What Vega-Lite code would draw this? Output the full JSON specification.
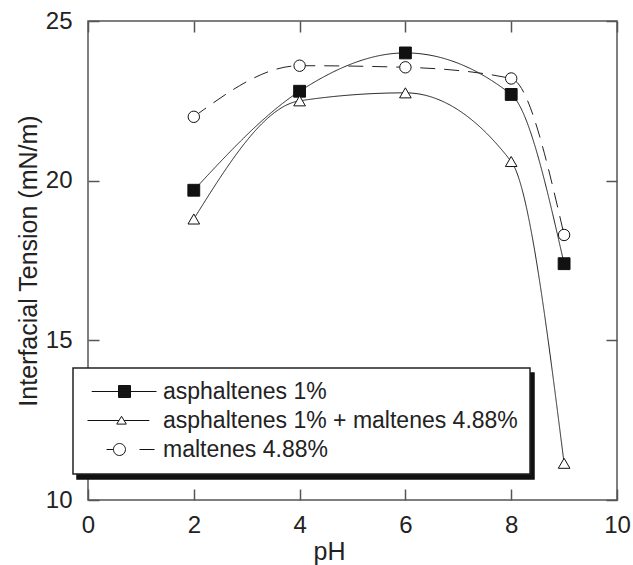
{
  "$schema": "https://vega.github.io/schema/vega-lite/v6.json",
  "width": 529,
  "height": 479,
  "autosize": {"type": "none"},
  "padding": {"left": 88, "top": 21, "right": 16, "bottom": 65},
  "background": "white",
  "config": {
    "font": "Liberation Sans",
    "view": {"stroke": "#555", "strokeWidth": 1.5},
    "legend": {"strokeWidth": 1.5}
  },
  "data": {
    "values": [
      {"pH": 2, "tension": 19.7, "series": "asphaltenes 1%"},
      {"pH": 4, "tension": 22.8, "series": "asphaltenes 1%"},
      {"pH": 6, "tension": 24.0, "series": "asphaltenes 1%"},
      {"pH": 8, "tension": 22.7, "series": "asphaltenes 1%"},
      {"pH": 9, "tension": 17.4, "series": "asphaltenes 1%"},
      {"pH": 2, "tension": 18.8, "series": "asphaltenes 1% + maltenes 4.88%"},
      {"pH": 4, "tension": 22.5, "series": "asphaltenes 1% + maltenes 4.88%"},
      {"pH": 6, "tension": 22.75, "series": "asphaltenes 1% + maltenes 4.88%"},
      {"pH": 8, "tension": 20.6, "series": "asphaltenes 1% + maltenes 4.88%"},
      {"pH": 9, "tension": 11.15, "series": "asphaltenes 1% + maltenes 4.88%"},
      {"pH": 2, "tension": 22.0, "series": "maltenes 4.88%"},
      {"pH": 4, "tension": 23.6, "series": "maltenes 4.88%"},
      {"pH": 6, "tension": 23.55, "series": "maltenes 4.88%"},
      {"pH": 8, "tension": 23.2, "series": "maltenes 4.88%"},
      {"pH": 9, "tension": 18.3, "series": "maltenes 4.88%"}
    ]
  },
  "layer": [
    {
      "mark": {"type": "line", "interpolate": "monotone", "color": "#222", "strokeWidth": 1},
      "encoding": {
        "x": {
          "field": "pH", "type": "quantitative",
          "scale": {"domain": [0, 10], "nice": false, "zero": false},
          "axis": {
            "orient": "bottom", "values": [0, 2, 4, 6, 8, 10], "tickSize": -11, "tickColor": "#555", "tickWidth": 1.5,
            "domain": false, "grid": false, "labelFontSize": 24, "labelColor": "#222", "labelPadding": 24,
            "labelFlush": false,
            "title": "pH", "titleFontSize": 25, "titleFontWeight": "normal", "titleColor": "#222", "titleX": 241, "titlePadding": 2
          }
        },
        "y": {
          "field": "tension", "type": "quantitative",
          "scale": {"domain": [10, 25], "nice": false, "zero": false},
          "axis": {
            "orient": "left", "values": [10, 15, 20, 25], "tickSize": -11, "tickColor": "#555", "tickWidth": 1.5,
            "domain": false, "grid": false, "labelFontSize": 24, "labelColor": "#222", "labelPadding": 27,
            "labelFlush": false,
            "title": "Interfacial Tension (mN/m)", "titleFontSize": 25, "titleFontWeight": "normal", "titleColor": "#222", "titlePadding": 4
          }
        },
        "strokeDash": {
          "field": "series", "type": "nominal",
          "scale": {"domain": ["maltenes 4.88%", "asphaltenes 1% + maltenes 4.88%", "asphaltenes 1%"], "range": [[15, 9], [1, 0], [1, 0]]},
          "legend": {
            "orient": "none", "legendX": -11, "legendY": 352, "title": null, "zindex": 1,
            "fillColor": "#111", "strokeColor": "#111", "labelColor": "#111", "labelOpacity": 0,
            "labelFontSize": 23, "labelFont": "Liberation Sans", "labelLimit": 500, "padding": 12, "rowPadding": 5,
            "symbolSize": 144, "labelOffset": 55, "symbolOpacity": 0
          }
        }
      }
    },
    {
      "mark": {"type": "point", "filled": true, "stroke": "#111", "strokeWidth": 1, "opacity": 1},
      "encoding": {
        "x": {
          "field": "pH", "type": "quantitative",
          "axis": {"orient": "top", "values": [0, 2, 4, 6, 8, 10], "tickSize": -11, "tickColor": "#555", "tickWidth": 1.5, "domain": false, "grid": false, "labels": false, "title": null}
        },
        "y": {
          "field": "tension", "type": "quantitative",
          "axis": {"orient": "right", "values": [10, 15, 20, 25], "tickSize": -11, "tickColor": "#555", "tickWidth": 1.5, "domain": false, "grid": false, "labels": false, "title": null}
        },
        "shape": {
          "field": "series", "type": "nominal",
          "scale": {"range": ["square", "triangle-up", "circle"]},
          "legend": null
        },
        "fill": {
          "field": "series", "type": "nominal",
          "scale": {"range": ["#111", "#fff", "#fff"]},
          "legend": null
        },
        "size": {
          "field": "series", "type": "nominal",
          "scale": {"range": [140, 130, 190]},
          "legend": null
        }
      }
    },
    {
      "mark": {"type": "point", "filled": false, "opacity": 0, "size": 144},
      "encoding": {
        "x": {"field": "pH", "type": "quantitative", "axis": null},
        "y": {"field": "tension", "type": "quantitative", "axis": null},
        "shape": {
          "field": "series", "type": "nominal",
          "scale": {
            "domain": ["asphaltenes 1%", "asphaltenes 1% + maltenes 4.88%", "maltenes 4.88%"],
            "range": [
              "M-0.8,0H10M3.67,-1H5.67V1H3.67ZM3.67,-0.83H5.67M3.67,-0.67H5.67M3.67,-0.5H5.67M3.67,-0.33H5.67M3.67,-0.17H5.67M3.67,0.17H5.67M3.67,0.33H5.67M3.67,0.5H5.67M3.67,0.67H5.67M3.67,0.83H5.67",
              "M-1.5,0H3.74M4.6,0H8.8M4.17,-0.7L4.97,0.6H3.37Z",
              "M1.67,0H2.83M4.83,0A1,1,0,1,1,2.83,0A1,1,0,1,1,4.83,0M7.17,0H9.67"
            ]
          },
          "legend": {
            "orient": "none", "legendX": -15, "legendY": 347, "title": null, "zindex": 2,
            "fillColor": "white", "strokeColor": "#222", "labelColor": "#222",
            "labelFontSize": 23, "labelFont": "Liberation Sans", "labelLimit": 500, "padding": 12, "rowPadding": 5,
            "symbolSize": 144, "labelOffset": 55, "symbolOpacity": 1,
            "symbolFillColor": "#fff", "symbolStrokeColor": "#111", "symbolStrokeWidth": 1
          }
        }
      }
    }
  ],
  "resolve": {
    "axis": {"x": "independent", "y": "independent"},
    "scale": {"shape": "independent"},
    "legend": {"shape": "independent"}
  }
}
